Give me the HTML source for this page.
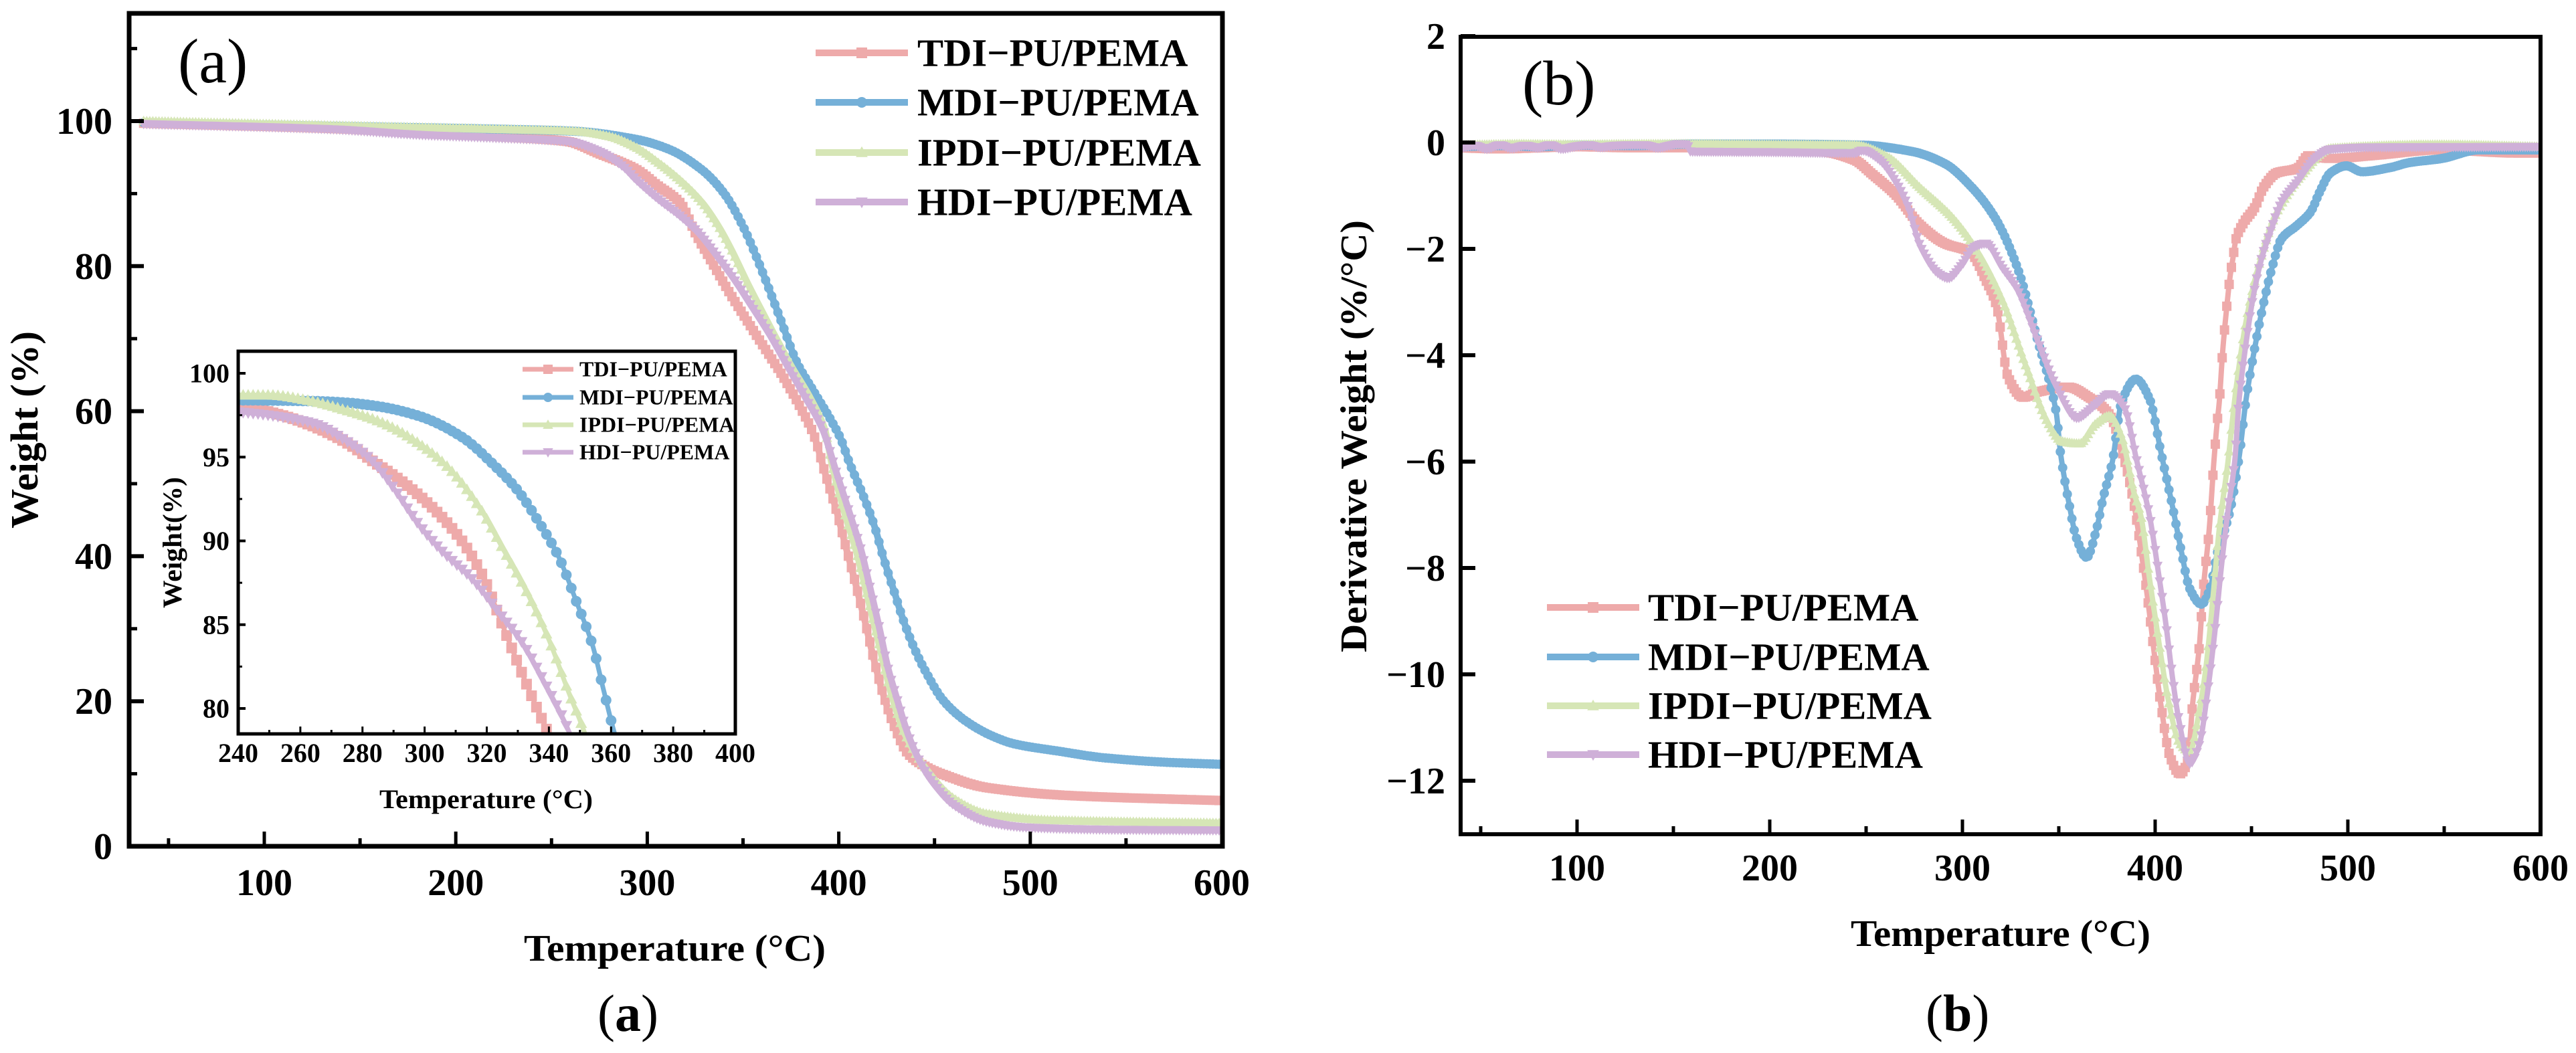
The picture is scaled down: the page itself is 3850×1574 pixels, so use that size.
<!DOCTYPE html>
<html lang="en">
<head>
<meta charset="utf-8">
<title>TGA and DTG curves of PU/PEMA</title>
<style>
html,body{margin:0;padding:0;background:#fff;width:3850px;height:1574px;overflow:hidden}
svg{display:block}
text{font-family:"Liberation Serif",serif;fill:#000}
.b{font-weight:700}
</style>
</head>
<body>
<svg id="figure" xmlns="http://www.w3.org/2000/svg" width="3850" height="1574" viewBox="0 0 3850 1574">
<defs>
<clipPath id="clipA"><rect x="193" y="20" width="1634" height="1245"/></clipPath>
<clipPath id="clipI"><rect x="356" y="525" width="743" height="572"/></clipPath>
<clipPath id="clipB"><rect x="2183" y="55" width="1614" height="1192"/></clipPath>
</defs>
<g id="layer-a"></g>
<g id="layer-i"></g>
<g id="layer-b"></g>

<text x="266" y="123" font-size="94">(a)</text>
<text x="2275" y="156" font-size="94">(b)</text>
<text x="893" y="1541" font-size="78">(<tspan class="b">a</tspan>)</text>
<text x="2878" y="1541" font-size="78">(<tspan class="b">b</tspan>)</text>

<text class="b" x="783" y="1436" font-size="56" textLength="451" lengthAdjust="spacingAndGlyphs">Temperature (°C)</text>
<text class="b" transform="translate(56,790) rotate(-90)" font-size="58" textLength="295" lengthAdjust="spacingAndGlyphs">Weight (%)</text>
<text class="b" x="567" y="1208" font-size="40" textLength="319" lengthAdjust="spacingAndGlyphs">Temperature (°C)</text>
<text class="b" transform="translate(271,909) rotate(-90)" font-size="40" textLength="196" lengthAdjust="spacingAndGlyphs">Weight(%)</text>
<text class="b" x="2766" y="1414" font-size="56" textLength="448" lengthAdjust="spacingAndGlyphs">Temperature (°C)</text>
<text class="b" transform="translate(2042,975) rotate(-90)" font-size="56" textLength="646" lengthAdjust="spacingAndGlyphs">Derivative Weight (%/°C)</text>
</svg>

<script>
/* ---------- Series names ---------- */
const seriesNames = ['TDI−PU/PEMA', 'MDI−PU/PEMA', 'IPDI−PU/PEMA', 'HDI−PU/PEMA'];

/* ---------- Tick labels ---------- */
const mainXTicks = [100, 200, 300, 400, 500, 600];
const mainXMinor = [50, 150, 250, 350, 450, 550];
const mainYTicks = [0, 20, 40, 60, 80, 100];
const mainYMinor = [10, 30, 50, 70, 90, 110];
const insetXTicks = [240, 260, 280, 300, 320, 340, 360, 380, 400];
const insetXMinor = [250, 270, 290, 310, 330, 350, 370, 390];
const insetYTicks = [80, 85, 90, 95, 100];
const insetYMinor = [82.5, 87.5, 92.5, 97.5];
const derivXTicks = [100, 200, 300, 400, 500, 600];
const derivXMinor = [50, 150, 250, 350, 450, 550];
const derivYTicks = [2, 0, -2, -4, -6, -8, -10, -12];
const derivYMinor = [];

/* ---------- Panel (a): weight vs temperature ---------- */
const tdiMainT = [37,133,181,219,258,275,293.9,305.5,317.3,325.4,333.4,342.8,352.3,361.3,370.8,380.2,387,392.8,398.8,403.3,409.2,413.8,418.7,423.2,429.2,436.1,445.2,453.6,477,520,600];
const tdiMainW = [99.7,99,98.4,97.9,97.2,95.5,93.4,91.1,88.7,84.4,80.7,76.4,72.4,68.7,64.8,60.4,56.7,51.5,46.3,41.7,35.8,30.9,25.4,21,16.4,12.8,11,10,8.1,7,6.3];
const mdiMainT = [37,133,219,262,293.9,311.4,328.9,340.5,349.8,356.8,363.8,370.8,377.8,387.2,396.3,401,405.7,412.7,418.7,423.2,429.2,433.7,439.6,446.6,454.6,466.2,480.2,492,515.1,538.5,570,600];
const mdiMainW = [99.8,99.3,98.9,98.6,97.5,96.1,93.2,89.9,85.6,81.4,76.7,71.8,66.9,62.6,58.6,56.2,52.8,48.4,44.1,39.9,34.9,31.2,27.2,23.5,20.1,17.3,15.2,14.1,13.1,12.2,11.6,11.3];
const ipdiMainT = [37,133,219,262,280,293.9,305.5,317.3,328.9,337,343.9,352.3,360.3,368.3,375.3,384.8,392.8,396.3,403,409,418.5,428,434.5,445,460,477,511,600];
const ipdiMainW = [100,99.4,98.9,98.6,97.9,96.4,94.3,91.8,88.7,85.6,82.3,77.7,73.6,69.6,66.2,62,57.4,52.8,46,40.8,30.6,20.5,15.5,10.9,6.6,4.5,3.6,3.2];
const hdiMainT = [37,133,181,219,258,275,288,293.9,305.5,317.3,326.4,335.8,345.3,354.4,363.8,373.2,382.3,391.7,398.8,405.7,411.7,416.2,420.8,425.6,430.2,436.1,443.1,450,460,477,498,541,600];
const hdiMainW = [99.6,98.9,98.1,97.7,97.2,95.8,93.6,92,89.3,86.9,84.7,81.6,78.2,74.5,70.6,66.2,62,57.4,51.5,45.9,40.8,35.8,30.6,24.7,20.5,15.5,11.3,8.5,5.7,3.4,2.6,2.3,2.2];

/* ---------- Inset: zoom of weight curves ---------- */
const tdiInsetT = [240,250,262,274.5,283,293,303,312,319,325,330,335,339.6,342];
const tdiInsetW = [98.1,97.7,97.0,95.9,94.8,93.5,91.9,90.0,87.8,85.0,82.7,80.5,78.6,77.6];
const mdiInsetT = [240,262,274.5,286,299,312,323,330,336.5,343,349,354,357.6,361,363];
const mdiInsetW = [98.4,98.35,98.25,98.0,97.4,96.2,94.4,93.0,91.2,89.1,86.3,83.8,81.1,78.6,77.5];
const ipdiInsetT = [240,250,262,274.5,287,299,308,318,325,333,340,346.5,351.4,353];
const ipdiInsetW = [98.7,98.7,98.4,97.8,97.0,95.7,94.3,91.9,89.6,86.9,84.1,80.9,78.6,77.6];
const hdiInsetT = [240,250,264.5,274.5,283,290.6,298,305.5,315.4,324,331.5,339,346.5,348];
const hdiInsetW = [97.7,97.5,97.0,96.0,94.8,93.0,91.0,89.4,87.7,85.7,83.9,81.4,78.6,77.8];

/* ---------- Panel (b): derivative weight vs temperature ---------- */
const tdiDerivT = [40,60,80,100,130,160,200,227,244,253,265,278,291,304,312,317.7,323.6,331.6,339.2,354.9,365.6,376.4,384,389.2,392.7,396.2,399.7,403.1,407.6,412.9,417,419.4,422.9,425,428.1,430.5,432,433.3,435,437,438.9,440.3,442,445.9,451.7,456.3,463.2,473.6,479.5,491,514,547,590,600];
const tdiDerivV = [-0.1,-0.12,-0.1,-0.08,-0.1,-0.1,-0.13,-0.17,-0.33,-0.59,-0.97,-1.55,-1.9,-2.06,-2.58,-3.07,-4.4,-4.79,-4.69,-4.6,-4.79,-5.12,-5.96,-6.84,-7.67,-8.6,-9.65,-10.6,-11.53,-11.87,-11.62,-10.57,-9.48,-8.39,-7.26,-6,-5.33,-4.87,-3.95,-3.15,-2.52,-2.19,-1.81,-1.51,-1.22,-0.84,-0.57,-0.49,-0.25,-0.3,-0.24,-0.14,-0.2,-0.2];
const mdiDerivT = [40,60,80,100,130,160,200,248,274,291,304,317,328.5,339.2,348.6,351,355.6,359,364.4,369.4,372.9,377.8,382.6,390,397.2,403.1,409,413.5,418,424,428.5,432,438.9,443.7,447.2,451.7,456.3,461,465.6,473.6,480.6,485.4,491,499.3,507.3,522.2,531.6,549,568,600];
const mdiDerivV = [-0.08,-0.06,-0.08,-0.05,-0.06,-0.03,-0.03,-0.05,-0.17,-0.4,-0.81,-1.42,-2.35,-3.74,-5.06,-5.87,-6.84,-7.42,-7.8,-7.3,-6.7,-6,-4.88,-4.45,-4.83,-5.84,-6.84,-7.67,-8.39,-8.68,-8.39,-7.76,-6.92,-5.88,-4.83,-3.86,-3.02,-2.31,-1.81,-1.56,-1.31,-0.93,-0.57,-0.44,-0.55,-0.47,-0.38,-0.3,-0.14,-0.14];
const ipdiDerivT = [40,70,100,130,160,200,244,261,278,295,308,320.5,333,343.8,351.7,360.8,368.8,376.4,382.6,388.9,392.7,397.2,402.1,406.6,412.5,418,422.9,426.4,429.9,433.3,437.8,442,447.2,452.8,462.2,466.7,474,491.5,547,600];
const ipdiDerivV = [-0.05,-0.03,-0.04,-0.03,-0.03,-0.04,-0.05,-0.27,-0.85,-1.42,-2.06,-2.95,-4.21,-5.23,-5.62,-5.66,-5.3,-5.14,-5.53,-6.57,-7.04,-8.23,-9.43,-10.44,-11.28,-11.45,-10.69,-9.86,-8.6,-7.26,-6,-4.62,-3.36,-2.44,-1.38,-1.09,-0.7,-0.11,-0.04,-0.08];
const hdiDerivT = [40,47,53,60,66,73,80,86,92,100,106,112,120,127,135,142,148,153,157,159,200,244,248,257,265,272,278,287,292.7,300,306,312,320.5,328.5,339.2,348.6,359.4,368.8,376.4,384,390.3,397.2,402.1,405.6,409,412.5,418,422.9,427.4,430.9,434.4,437.8,441.3,443.6,447.2,450.7,455.2,459.7,465.6,473.6,483,491,513,600];
const hdiDerivV = [-0.1,-0.06,-0.12,-0.05,-0.11,-0.06,-0.1,-0.05,-0.12,-0.07,-0.05,-0.09,-0.06,-0.05,-0.05,-0.1,-0.06,-0.03,-0.04,-0.17,-0.18,-0.2,-0.15,-0.33,-0.72,-1.23,-1.94,-2.45,-2.55,-2.29,-1.97,-1.9,-2.35,-2.77,-3.74,-4.58,-5.18,-4.94,-4.73,-4.99,-5.96,-7.04,-8.18,-9.06,-10.06,-10.9,-11.68,-11.32,-10.28,-9.23,-7.97,-6.92,-6,-4.83,-3.77,-2.94,-2.19,-1.69,-1.13,-0.75,-0.3,-0.13,-0.09,-0.08];

/* ---------- Helpers ---------- */
const NS = 'http://www.w3.org/2000/svg';
const colors = ['#eeaaaa', '#75b0d8', '#d6e6b6', '#cfb0d8'];
const markerKinds = ['square', 'circle', 'up', 'down'];

function mk(parent, tag, attrs, txt) {
  const el = document.createElementNS(NS, tag);
  for (const k in attrs) el.setAttribute(k, attrs[k]);
  if (txt !== undefined) el.textContent = txt;
  parent.appendChild(el);
  return el;
}

function linear(d0, d1, r0, r1) {
  return v => r0 + (v - d0) * (r1 - r0) / (d1 - d0);
}

/* monotone cubic curve through the data points, in pixel space */
function spline(ts, vs, X, Y) {
  const n = ts.length, px = ts.map(X), py = vs.map(Y);
  const dx = [], s = [], m = [];
  for (let i = 0; i < n - 1; i++) {
    dx[i] = px[i + 1] - px[i];
    s[i] = (py[i + 1] - py[i]) / dx[i];
  }
  m[0] = s[0];
  m[n - 1] = s[n - 2];
  for (let i = 1; i < n - 1; i++) {
    m[i] = s[i - 1] * s[i] <= 0 ? 0 : 2 * s[i - 1] * s[i] / (s[i - 1] + s[i]);
  }
  let d = 'M' + px[0].toFixed(1) + ' ' + py[0].toFixed(1);
  for (let i = 0; i < n - 1; i++) {
    const h = dx[i] / 3;
    d += 'C' + (px[i] + h).toFixed(1) + ' ' + (py[i] + m[i] * h).toFixed(1) + ' ' +
      (px[i + 1] - h).toFixed(1) + ' ' + (py[i + 1] - m[i + 1] * h).toFixed(1) + ' ' +
      px[i + 1].toFixed(1) + ' ' + py[i + 1].toFixed(1);
  }
  function at(t) {
    const x = X(t);
    let i = 0;
    while (i < n - 2 && x > px[i + 1]) i++;
    const u = (x - px[i]) / dx[i], u2 = u * u, u3 = u2 * u;
    const y = (2 * u3 - 3 * u2 + 1) * py[i] + (u3 - 2 * u2 + u) * dx[i] * m[i] +
      (-2 * u3 + 3 * u2) * py[i + 1] + (u3 - u2) * dx[i] * m[i + 1];
    return [x, y];
  }
  return { d: d, at: at };
}

function markerShape(kind, x, y, r) {
  const a = x.toFixed(1), b = y.toFixed(1);
  if (kind === 'square') return 'M' + (x - r).toFixed(1) + ' ' + (y - r).toFixed(1) + 'h' + 2 * r + 'v' + 2 * r + 'h' + -2 * r + 'z';
  if (kind === 'circle') return 'M' + (x - r).toFixed(1) + ' ' + b + 'a' + r + ' ' + r + ' 0 1 0 ' + 2 * r + ' 0a' + r + ' ' + r + ' 0 1 0 ' + -2 * r + ' 0z';
  if (kind === 'up') return 'M' + a + ' ' + (y - r * 1.15).toFixed(1) + 'L' + (x + r * 1.1).toFixed(1) + ' ' + (y + r * 0.85).toFixed(1) + 'H' + (x - r * 1.1).toFixed(1) + 'z';
  return 'M' + a + ' ' + (y + r * 1.15).toFixed(1) + 'L' + (x + r * 1.1).toFixed(1) + ' ' + (y - r * 0.85).toFixed(1) + 'H' + (x - r * 1.1).toFixed(1) + 'z';
}

function drawSeries(parent, prefix, idx, ts, vs, X, Y, opt) {
  const g = mk(parent, 'g', { 'clip-path': opt.clip });
  
  
  const c = spline(ts, vs, X, Y);
  const line = mk(g, 'path', { d: c.d, fill: 'none', stroke: colors[idx], 'stroke-width': opt.sw, 'stroke-linejoin': 'round' });
  
  
  let md = '';
  for (let t = ts[0]; t <= ts[ts.length - 1]; t += opt.step) {
    const p = c.at(t);
    md += markerShape(markerKinds[idx], p[0], p[1], opt.mr);
  }
  const marks = mk(g, 'path', { d: md, fill: colors[idx] });
  
  
}

function drawAxes(parent, prefix, box, X, Y, xTicks, xMinor, yTicks, yMinor, opt) {
  const frame = mk(parent, 'rect', {
    x: box.x0, y: box.y0, width: box.x1 - box.x0, height: box.y1 - box.y0,
    fill: 'none', stroke: '#000', 'stroke-width': opt.fw
  });
  
  
  xTicks.forEach(t => {
    const tick = mk(parent, 'line', { x1: X(t), x2: X(t), y1: box.y1, y2: box.y1 - opt.major, stroke: '#000', 'stroke-width': opt.tw });
    
    
    const lab = mk(parent, 'text', { x: X(t), y: opt.xLabelY, 'font-size': opt.fs, 'text-anchor': 'middle', 'font-weight': 700 }, String(t));
    
    
  });
  xMinor.forEach(t => {
    const tick = mk(parent, 'line', { x1: X(t), x2: X(t), y1: box.y1, y2: box.y1 - opt.minor, stroke: '#000', 'stroke-width': opt.tw });
    
    
  });
  yTicks.forEach(v => {
    const tick = mk(parent, 'line', { x1: box.x0, x2: box.x0 + opt.major, y1: Y(v), y2: Y(v), stroke: '#000', 'stroke-width': opt.tw + 1 });
    
    
    const lab = mk(parent, 'text', { x: opt.yLabelX, y: Y(v) + opt.fs * 0.34, 'font-size': opt.fs, 'text-anchor': 'end', 'font-weight': 700 }, String(v).replace('-', '−'));
    
    
  });
  yMinor.forEach(v => {
    const tick = mk(parent, 'line', { x1: box.x0, x2: box.x0 + opt.minor, y1: Y(v), y2: Y(v), stroke: '#000', 'stroke-width': opt.tw });
    
    
  });
}

function drawLegend(parent, prefix, lx0, lx1, tx, ys, fs, sw, mr) {
  seriesNames.forEach((name, i) => {
    const g = mk(parent, 'g', {});
    
    
    mk(g, 'line', { x1: lx0, x2: lx1, y1: ys[i], y2: ys[i], stroke: colors[i], 'stroke-width': sw });
    mk(g, 'path', { d: markerShape(markerKinds[i], (lx0 + lx1) / 2, ys[i], mr), fill: colors[i] });
    mk(g, 'text', { x: tx, y: ys[i] + fs * 0.33, 'font-size': fs, 'font-weight': 700 }, name);
  });
}

/* ---------- Panel (a) ---------- */
const layerA = document.getElementById('layer-a');
const boxA = { x0: 193, x1: 1827, y0: 20, y1: 1265 };
const xA = linear(100, 600, 395, 1826);
const yA = linear(0, 100, 1265, 181);
const optA = { clip: 'url(#clipA)', sw: 10, mr: 7, step: 1.6 };
drawSeries(layerA, 'panel-a', 0, tdiMainT, tdiMainW, xA, yA, optA);
drawSeries(layerA, 'panel-a', 1, mdiMainT, mdiMainW, xA, yA, optA);
drawSeries(layerA, 'panel-a', 2, ipdiMainT, ipdiMainW, xA, yA, optA);
drawSeries(layerA, 'panel-a', 3, hdiMainT, hdiMainW, xA, yA, optA);
drawAxes(layerA, 'panel-a', boxA, xA, yA, mainXTicks, mainXMinor, mainYTicks, mainYMinor,
  { fw: 7, tw: 5, major: 22, minor: 12, fs: 56, xLabelY: 1338, yLabelX: 168 });
drawLegend(layerA, 'panel-a', 1219, 1357, 1371, [79, 153, 228, 302], 58.6, 10, 8);

/* ---------- Inset ---------- */
const layerI = document.getElementById('layer-i');
const boxI = { x0: 356, x1: 1099, y0: 525, y1: 1097 };
const xI = linear(240, 400, 356, 1099);
const yI = linear(80, 100, 1059, 558);
const optI = { clip: 'url(#clipI)', sw: 7, mr: 8, step: 1.6 };
drawSeries(layerI, 'inset', 0, tdiInsetT, tdiInsetW, xI, yI, optI);
drawSeries(layerI, 'inset', 1, mdiInsetT, mdiInsetW, xI, yI, optI);
drawSeries(layerI, 'inset', 2, ipdiInsetT, ipdiInsetW, xI, yI, optI);
drawSeries(layerI, 'inset', 3, hdiInsetT, hdiInsetW, xI, yI, optI);
drawAxes(layerI, 'inset', boxI, xI, yI, insetXTicks, insetXMinor, insetYTicks, insetYMinor,
  { fw: 5, tw: 3, major: 11, minor: 6, fs: 40, xLabelY: 1139, yLabelX: 343 });
drawLegend(layerI, 'inset', 781, 857, 866, [552, 594, 635, 676], 32, 7, 7);

/* ---------- Panel (b) ---------- */
const layerB = document.getElementById('layer-b');
const boxB = { x0: 2183, x1: 3797, y0: 55, y1: 1247 };
const xB = linear(100, 600, 2357, 3797);
const yB = linear(0, -12, 213, 1167);
const optB = { clip: 'url(#clipB)', sw: 8, mr: 7, step: 1.2 };
drawSeries(layerB, 'panel-b', 0, tdiDerivT, tdiDerivV, xB, yB, optB);
drawSeries(layerB, 'panel-b', 1, mdiDerivT, mdiDerivV, xB, yB, optB);
drawSeries(layerB, 'panel-b', 2, ipdiDerivT, ipdiDerivV, xB, yB, optB);
drawSeries(layerB, 'panel-b', 3, hdiDerivT, hdiDerivV, xB, yB, optB);
drawAxes(layerB, 'panel-b', boxB, xB, yB, derivXTicks, derivXMinor, derivYTicks, derivYMinor,
  { fw: 6, tw: 5, major: 22, minor: 12, fs: 56, xLabelY: 1316, yLabelX: 2160 });
drawLegend(layerB, 'panel-b', 2312, 2450, 2463, [908, 982, 1055, 1128], 58.6, 10, 8);
</script>
</body>
</html>
